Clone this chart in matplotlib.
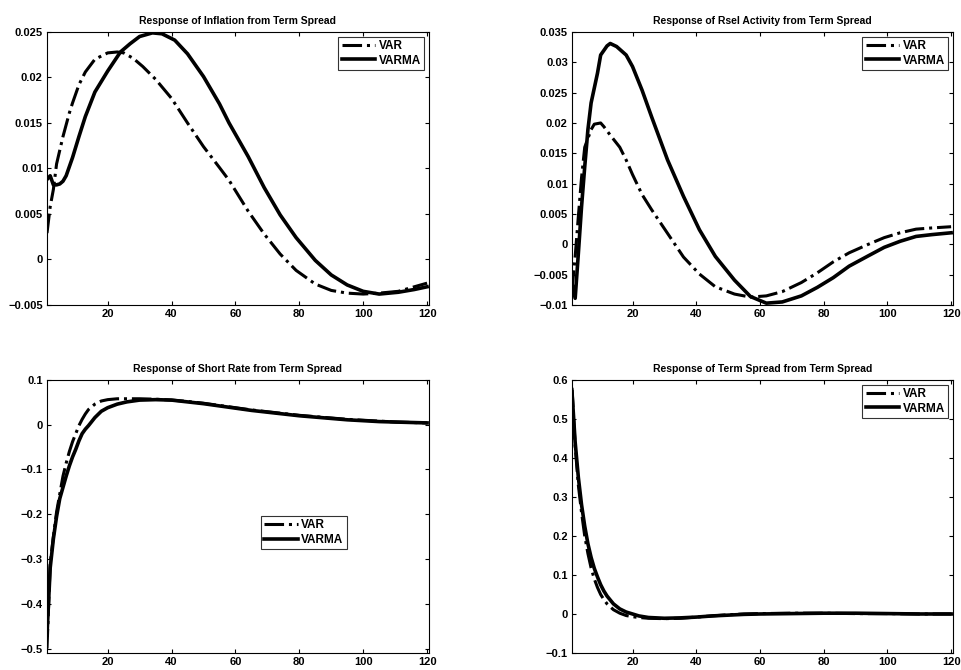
import matplotlib
matplotlib.use('Agg')
import matplotlib.pyplot as plt

plt.rcParams['font.family'] = ['Liberation Sans', 'DejaVu Sans']
plt.rcParams['font.weight'] = 'bold'

# impulse responses to a term spread shock, horizons 1..120

# inflation
INF_VAR_X = [1, 2, 3, 4, 6, 8, 9, 11, 13, 16, 20, 23, 25, 28, 31, 35, 40,
             45, 50, 55, 58, 64, 69, 74, 79, 85, 90, 95, 100, 105, 111, 116,
             120]
INF_VAR = [0.0029, 0.0058, 0.0077, 0.0105, 0.0135, 0.0161, 0.0172, 0.0192,
           0.0206, 0.022, 0.0227, 0.0228, 0.0227, 0.0221, 0.0212, 0.0198,
           0.0177, 0.015, 0.0124, 0.0101, 0.0087, 0.0053, 0.0028, 0.0006,
           -0.0012, -0.0027, -0.0034, -0.0037, -0.0038, -0.0037, -0.0035,
           -0.003, -0.0026]
INF_VARMA_X = [1, 2, 3, 4, 5, 6, 7, 9, 11, 13, 16, 20, 24, 27, 30, 34, 37,
               41, 45, 50, 55, 58, 64, 69, 74, 79, 85, 90, 95, 100, 105, 111,
               116, 120]
INF_VARMA = [0.0088, 0.0092, 0.0082, 0.0082, 0.0083, 0.0086, 0.0092, 0.0112,
             0.0135, 0.0157, 0.0184, 0.0207, 0.0228, 0.0237, 0.0245, 0.0249,
             0.0248, 0.0241, 0.0226, 0.0201, 0.0171, 0.015, 0.0113, 0.0079,
             0.0049, 0.0024, -0.0001, -0.0017, -0.0028, -0.0035, -0.0038,
             -0.0036, -0.0033, -0.003]

# real activity
RA_VAR_X = [1, 2, 3, 4, 5, 7, 8, 10, 11, 13, 16, 18, 20, 23, 26, 31, 36,
            41, 46, 52, 57, 62, 67, 73, 78, 83, 88, 94, 99, 104, 109, 114,
            120]
RA_VAR = [-0.0075, -0.002, 0.0046, 0.011, 0.016, 0.0189, 0.0198, 0.02,
          0.0194, 0.018, 0.016, 0.0139, 0.0115, 0.0082, 0.0057, 0.0018,
          -0.0021, -0.0049, -0.007, -0.0082, -0.0087, -0.0085, -0.0078,
          -0.0063, -0.0047, -0.0029, -0.0014, 0.0, 0.0011, 0.0019, 0.0025,
          0.0027, 0.0029]
RA_VARMA_X = [1, 2, 3, 4, 5, 6, 7, 9, 10, 12, 13, 15, 18, 20, 23, 26, 31,
              36, 41, 46, 52, 57, 62, 67, 73, 78, 83, 88, 94, 99, 104, 109,
              114, 120]
RA_VARMA = [-0.0064, -0.0089, -0.0015, 0.0062, 0.0128, 0.0189, 0.0233,
            0.0282, 0.0312, 0.0327, 0.0331, 0.0326, 0.0312, 0.0293, 0.0254,
            0.021, 0.0139, 0.0079, 0.0024, -0.002, -0.0059, -0.0086,
            -0.0097, -0.0095, -0.0085, -0.0071, -0.0055, -0.0036, -0.0019,
            -0.0005, 0.0005, 0.0013, 0.0016, 0.0019]

# short rate
SR_X = [1, 2, 3, 4, 5, 6, 7, 8, 9, 10, 11, 12, 13, 14, 16, 18, 20, 23, 26,
        30, 35, 40, 45, 50, 55, 60, 65, 70, 75, 80, 85, 90, 95, 100, 105,
        110, 115, 120]
SR_VAR = [-0.5, -0.31, -0.25, -0.195, -0.155, -0.115, -0.086, -0.06,
          -0.038, -0.02, -0.002, 0.012, 0.024, 0.034, 0.046, 0.053, 0.056,
          0.058, 0.058, 0.058, 0.057, 0.055, 0.052, 0.048, 0.043, 0.038,
          0.033, 0.029, 0.025, 0.021, 0.018, 0.015, 0.012, 0.01, 0.008,
          0.006, 0.005, 0.004]
SR_VARMA = [-0.47, -0.32, -0.255, -0.205, -0.165, -0.14, -0.115, -0.092,
            -0.072, -0.055, -0.036, -0.02, -0.01, -0.002, 0.016, 0.03, 0.038,
            0.046, 0.051, 0.055, 0.056, 0.055, 0.051, 0.047, 0.042, 0.037,
            0.032, 0.028, 0.024, 0.02, 0.017, 0.014, 0.011, 0.009, 0.007,
            0.006, 0.005, 0.004]

# term spread
TS_X = [1, 2, 3, 4, 5, 6, 7, 8, 9, 10, 11, 12, 14, 16, 18, 20, 22, 25, 30,
        35, 40, 45, 50, 55, 60, 70, 80, 90, 100, 110, 120]
TS_VAR = [0.58, 0.43, 0.33, 0.26, 0.2, 0.155, 0.118, 0.09, 0.068, 0.05,
          0.037, 0.026, 0.011, 0.002, -0.004, -0.007, -0.009, -0.011, -0.012,
          -0.011, -0.008, -0.005, -0.002, 0.0, 0.001, 0.002, 0.002, 0.001,
          0.001, 0.0, 0.0]
TS_VARMA = [0.57, 0.44, 0.35, 0.28, 0.225, 0.18, 0.145, 0.117, 0.095, 0.075,
            0.059, 0.046, 0.026, 0.013, 0.005, 0.0, -0.005, -0.009, -0.011,
            -0.01, -0.008, -0.005, -0.003, -0.001, 0.0, 0.001, 0.002, 0.002,
            0.001, 0.0, 0.0]

X_TICKS = [20, 40, 60, 80, 100, 120]


def fmt(v):
    s = ('%g' % round(v, 6))
    return s.replace('-', '\u2212')


def draw(ax, title, x_var, y_var, x_varma, y_varma, ylim, yticks, leg_loc):
    ax.plot(x_var, y_var, color='black', linestyle='-.', lw=2.2,
            dash_joinstyle='round', label='VAR')
    ax.plot(x_varma, y_varma, color='black', linestyle='-', lw=2.6,
            solid_joinstyle='round', label='VARMA')
    ax.set_xlim(1, 120.6)
    ax.set_ylim(*ylim)
    ax.set_xticks(X_TICKS)
    ax.set_xticklabels([str(t) for t in X_TICKS])
    ax.set_yticks(yticks)
    ax.set_yticklabels([fmt(t) for t in yticks])
    ax.tick_params(direction='in', top=True, right=True, length=3,
                   labelsize=8, pad=3)
    ax.set_title(title, fontsize=7.5, fontweight='bold', pad=6)
    leg = ax.legend(loc=leg_loc, fontsize=8.5, frameon=True, fancybox=False,
                    edgecolor='black', handlelength=2.8, borderpad=0.3,
                    labelspacing=0.2, handletextpad=0.3, borderaxespad=0.4)
    leg.get_frame().set_linewidth(0.8)


fig = plt.figure(figsize=(9.61, 6.70), dpi=100)
ax1 = fig.add_axes([0.0489, 0.5448, 0.3975, 0.4075])
ax2 = fig.add_axes([0.5952, 0.5448, 0.3965, 0.4075])
ax3 = fig.add_axes([0.0489, 0.0254, 0.3975, 0.4075])
ax4 = fig.add_axes([0.5952, 0.0254, 0.3965, 0.4075])

draw(ax1, 'Response of Inflation from Term Spread', INF_VAR_X, INF_VAR,
     INF_VARMA_X, INF_VARMA, (-0.005, 0.025),
     [-0.005, 0, 0.005, 0.01, 0.015, 0.02, 0.025], 'upper right')
draw(ax2, 'Response of Rsel Activity from Term Spread', RA_VAR_X, RA_VAR,
     RA_VARMA_X, RA_VARMA, (-0.01, 0.035),
     [-0.01, -0.005, 0, 0.005, 0.01, 0.015, 0.02, 0.025, 0.03, 0.035],
     'upper right')
draw(ax3, 'Response of Short Rate from Term Spread', SR_X, SR_VAR,
     SR_X, SR_VARMA, (-0.51, 0.1),
     [-0.5, -0.4, -0.3, -0.2, -0.1, 0, 0.1], (0.56, 0.38))
draw(ax4, 'Response of Term Spread from Term Spread', TS_X, TS_VAR,
     TS_X, TS_VARMA, (-0.1, 0.6),
     [-0.1, 0, 0.1, 0.2, 0.3, 0.4, 0.5, 0.6], 'upper right')

fig.savefig('out.png', dpi=100)
